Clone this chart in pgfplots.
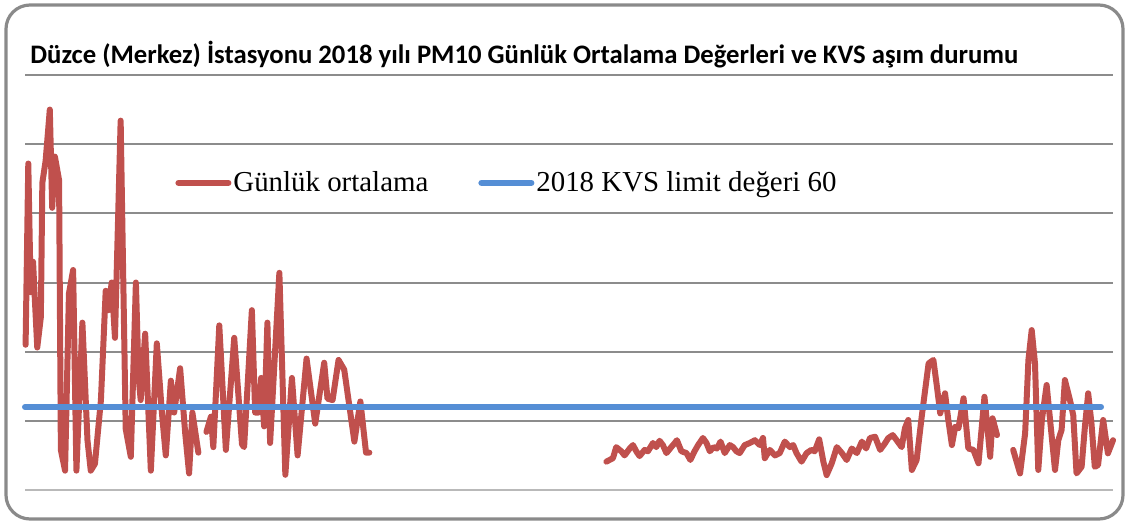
\documentclass[border=0pt]{standalone}
\usepackage{pgfplots}
\usepackage{pgfplotstable}
\pgfplotsset{compat=1.18}
\usepackage{fontspec}
\setmainfont{Liberation Serif}
\newfontfamily\titlefont{Carlito}
\definecolor{pmred}{HTML}{C0504D}
\definecolor{kvsblue}{HTML}{558ED5}
\definecolor{gridgray}{HTML}{8C8C8C}
\definecolor{bordergray}{HTML}{8A8A8A}

\pgfplotstableread{
day value
1.2 105
2.1 236
2.9 143
3.7 165
4.2 142
5.1 103
6.3 125
6.8 222
7.9 238
9.3 275
10.1 204
11.0 241
12.4 224
13.0 29
14.4 14
15.7 142
17.1 159
18.2 14
20.2 121
21.9 36
23.0 14
24.4 19
26.4 65
28.0 144
28.9 130
30.0 150
31.1 110
33.0 267
34.7 44
36.4 24
38.1 150
39.0 82
39.7 65
41.2 113
43.1 14
45.1 106
46.8 56
48.1 25
49.8 79
50.9 56
52.9 88
54.6 41
55.9 12
57.0 56
59.0 27
60.0 nan
61.7 42
63.2 53
64.0 31
66.0 119
68.2 29
71.0 110
73.6 33
74.3 31
76.9 130
78.0 56
79.1 56
80.0 81
81.0 46
82.1 121
83.0 34
86.1 157
88.1 11
90.3 81
92.2 25
95.2 95
98.1 48
101.1 92
102.2 66
103.9 65
105.9 94
107.8 87
111.2 35
113.2 64
115.1 27
116.2 27
150.0 nan
195.5 20.5
197.7 23
198.8 31
200.5 28
201.6 25
203.3 30
204.4 32.5
205.5 28
206.6 24.5
208.3 29
209.4 28
211.1 34
212.2 31
213.3 35.6
214.4 32.5
215.6 26.7
217.2 31
218.4 34
219.1 36
220.6 28
222.3 26.7
223.6 21.7
225.0 28
226.2 32.5
227.8 37.6
229.0 34
230.1 28
231.4 31
232.5 30
233.7 35
235.1 26.7
236.8 32.5
237.9 31
239.0 28
240.1 26.7
241.8 32.5
243.5 34
245.2 36
246.8 32.5
247.9 37.6
248.5 23
250.2 29
251.9 25
253.5 26.7
255.2 35
256.9 31
258.0 32.5
259.1 26.7
260.8 20.5
262.5 26.7
264.1 29
265.2 28
266.7 36.6
268.1 20.5
269.2 10.8
270.9 19.3
272.6 31
274.3 26.7
275.9 21.7
277.6 30
279.3 26.7
281.0 35
282.4 30
283.7 37.6
285.4 38.5
287.1 29
288.7 33.7
289.8 37.5
291.3 39.7
292.6 36
294.3 31
295.4 44.8
296.5 50.6
297.7 14.5
299.3 21.7
301.0 53
303.3 91.5
304.9 94
306.1 74.6
307.2 55.4
308.8 69.9
309.9 50.6
311.1 32.5
312.2 45.7
313.3 44.6
315.0 66.3
316.6 30
318.3 29
320.0 19.3
322.0 67.4
323.9 24
324.7 51.8
326.2 39.7
329.0 nan
331.6 29
333.9 12
335.6 41
336.7 94
337.8 115.6
338.9 91.5
340.0 14.5
341.2 50.6
342.8 75.9
344.5 38.5
345.6 14.5
346.7 36
347.8 43.4
348.9 79.5
350.6 65
351.7 54
352.8 12
354.5 16.8
355.6 45.7
356.7 69.9
357.8 48
358.9 16.8
360.0 18
361.7 50.6
363.3 26.5
365.0 36
}\dailytable

\pgfplotstableread{
day value
1 60
361 60
}\limittable

\begin{document}
\begin{tikzpicture}
\useasboundingbox (0,0) rectangle (564.5bp,-262.5bp);
\draw[bordergray, line width=1.6bp, rounded corners=12bp] (3bp,-2.5bp) rectangle (561.5bp,-259.5bp);
\node[anchor=base west, inner sep=0pt, font=\titlefont\bfseries\fontsize{13.4}{16}\selectfont] at (15bp,-31.5bp)
  {Düzce (Merkez) İstasyonu 2018 yılı PM10 Günlük Ortalama Değerleri ve KVS aşım durumu};
\begin{axis}[
  at={(12.5bp,-245bp)}, anchor=south west,
  scale only axis, width=544bp, height=207.5bp,
  xmin=1, xmax=365, ymin=0, ymax=300,
  clip=false,
  axis line style={draw=none},
  xtick=\empty,
  ytick={50,100,...,300}, yticklabels={},
  extra y ticks={0}, extra y tick labels={},
  extra y tick style={grid style={color=gray!55, line width=1bp}},
  major tick length=0pt,
  ymajorgrids,
  grid style={color=gridgray, line width=1bp},
  unbounded coords=jump,
  legend columns=2,
  legend style={at={(0.443,0.74)}, anchor=center, draw=none, fill=none,
    font=\fontsize{14.5}{16}\selectfont,
    nodes={inner xsep=1bp, inner ysep=1bp},
    /tikz/every even column/.append style={column sep=24bp}},
  legend image code/.code={\draw[#1] (0bp,0bp) -- (25bp,0bp);},
]
\addplot[pmred, line width=3bp, line join=round, line cap=round] table[x=day, y=value] {\dailytable};
\addlegendentry{Günlük ortalama}
\addplot[kvsblue, line width=3bp, line cap=round] table[x=day, y=value] {\limittable};
\addlegendentry{2018 KVS limit değeri 60}
\end{axis}
\end{tikzpicture}
\end{document}
